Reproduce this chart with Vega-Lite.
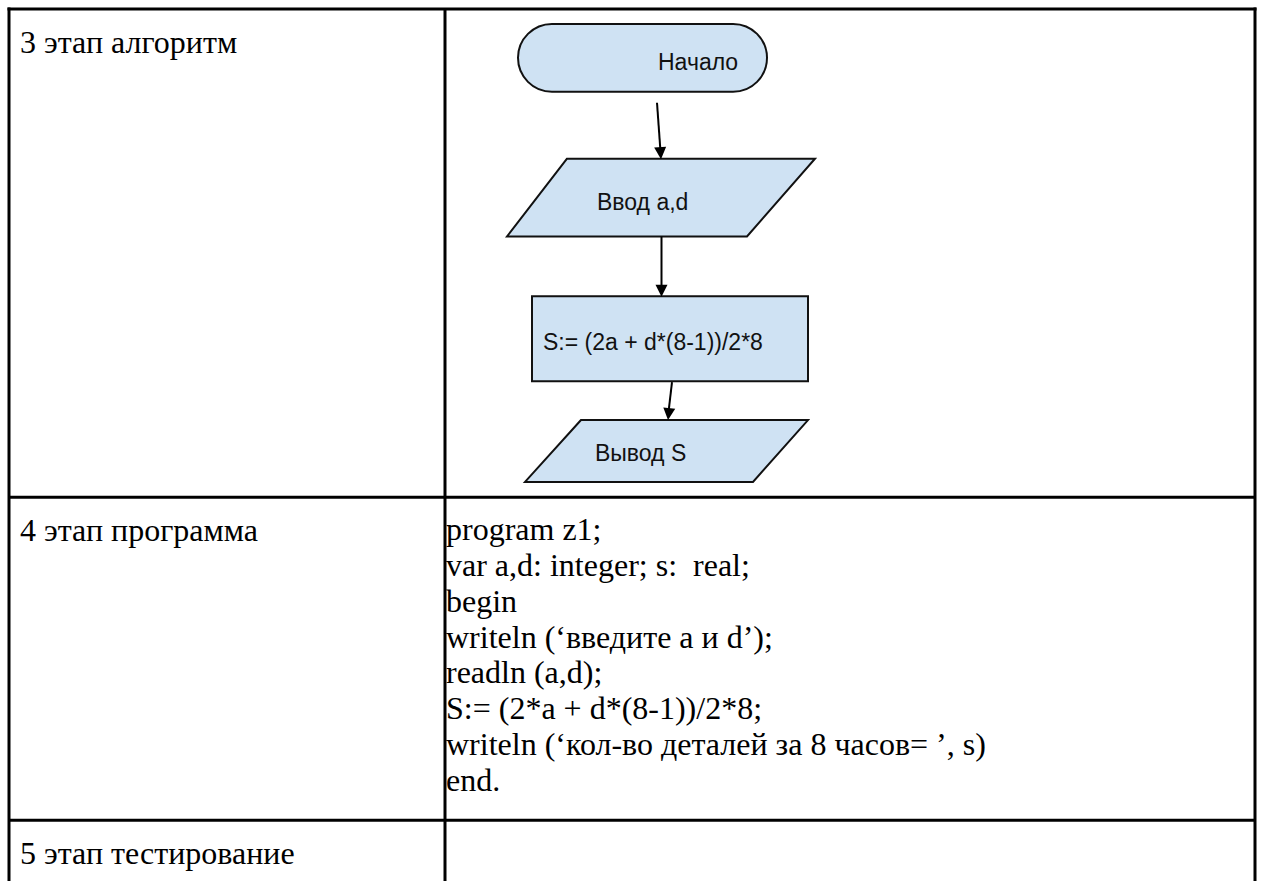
{
  "$schema": "https://vega.github.io/schema/vega-lite/v6.json",
  "width": 1261,
  "height": 883,
  "padding": 0,
  "autosize": {"type": "fit", "contains": "padding"},
  "background": "#ffffff",
  "config": {"view": {"stroke": null}},
  "datasets": {
    "grid": [
      {"x": 7.5, "y": 9, "x2": 1256.5, "y2": 9},
      {"x": 9, "y": 498.5, "x2": 1255, "y2": 498.5},
      {"x": 9, "y": 822, "x2": 1255, "y2": 822},
      {"x": 9, "y": 7.5, "x2": 9, "y2": 883},
      {"x": 445, "y": 9, "x2": 445, "y2": 883},
      {"x": 1255, "y": 7.5, "x2": 1255, "y2": 883}
    ],
    "terminal": [{"x": 518, "x2": 767, "y": 24, "y2": 92}],
    "process": [{"x": 532, "x2": 808, "y": 297, "y2": 382}],
    "io": [
      {"id": "in", "y": 159, "x": 567, "x2": 815},
      {"id": "in", "y": 237, "x": 507, "x2": 747},
      {"id": "out", "y": 421, "x": 581, "x2": 808},
      {"id": "out", "y": 483, "x": 525, "x2": 753}
    ],
    "arrows": [
      {"x": 657, "y": 103, "x2": 660.5, "y2": 152},
      {"x": 661.5, "y": 237, "x2": 661.5, "y2": 290},
      {"x": 672, "y": 383, "x2": 668.5, "y2": 413}
    ],
    "heads": [
      {"x": 661, "y": 159.5, "angle": -4},
      {"x": 661.5, "y": 297.5, "angle": 0},
      {"x": 668, "y": 421, "angle": 6}
    ],
    "serif": [
      {"x": 20, "y": 53, "text": "3 этап алгоритм"},
      {"x": 20, "y": 542, "text": "4 этап программа"},
      {"x": 20, "y": 866, "text": "5 этап тестирование"},
      {"x": 446, "y": 541, "text": "program z1;"},
      {"x": 446, "y": 577, "text": "var a,d: integer; s: \u00a0real;"},
      {"x": 446, "y": 613, "text": "begin"},
      {"x": 446, "y": 649, "text": "writeln (‘введите a и d’);"},
      {"x": 446, "y": 685, "text": "readln (a,d);"},
      {"x": 446, "y": 721, "text": "S:= (2*a + d*(8-1))/2*8;"},
      {"x": 446, "y": 757, "text": "writeln (‘кол-во деталей за 8 часов= ’, s)"},
      {"x": 446, "y": 793, "text": "end."}
    ],
    "sans": [
      {"x": 658, "y": 70, "text": "Начало"},
      {"x": 597, "y": 210, "text": "Ввод a,d"},
      {"x": 543, "y": 351, "text": "S:= (2a + d*(8-1))/2*8"},
      {"x": 595, "y": 462, "text": "Вывод S"}
    ]
  },
  "encoding": {
    "x": {"field": "x", "type": "quantitative", "scale": {"domain": [0, 1261], "nice": false, "zero": false}, "axis": null},
    "y": {"field": "y", "type": "quantitative", "scale": {"domain": [0, 883], "nice": false, "zero": false, "reverse": true}, "axis": null}
  },
  "layer": [
    {
      "data": {"name": "terminal"},
      "mark": {"type": "rect", "fill": "#cfe2f3", "stroke": "#111111", "strokeWidth": 2, "cornerRadius": 34},
      "encoding": {"x2": {"field": "x2"}, "y2": {"field": "y2"}}
    },
    {
      "data": {"name": "process"},
      "mark": {"type": "rect", "fill": "#cfe2f3", "stroke": "#111111", "strokeWidth": 2},
      "encoding": {"x2": {"field": "x2"}, "y2": {"field": "y2"}}
    },
    {
      "data": {"name": "io"},
      "mark": {"type": "area", "orient": "horizontal", "fill": "#cfe2f3", "fillOpacity": 1, "stroke": "#111111", "strokeWidth": 2, "interpolate": "linear"},
      "encoding": {
        "x": {"field": "x", "type": "quantitative", "stack": null},
        "x2": {"field": "x2"},
        "detail": {"field": "id", "type": "nominal"}
      }
    },
    {
      "data": {"name": "arrows"},
      "mark": {"type": "rule", "stroke": "#000000", "strokeWidth": 2},
      "encoding": {"x2": {"field": "x2"}, "y2": {"field": "y2"}}
    },
    {
      "data": {"name": "heads"},
      "mark": {"type": "point", "shape": "M-0.5,-1L0.5,-1L0,0Z", "filled": true, "fill": "#000000", "opacity": 1, "strokeWidth": 0},
      "encoding": {
        "size": {"value": 576},
        "angle": {"field": "angle", "type": "quantitative", "scale": null}
      }
    },
    {
      "data": {"name": "grid"},
      "mark": {"type": "rule", "stroke": "#000000", "strokeWidth": 3},
      "encoding": {"x2": {"field": "x2"}, "y2": {"field": "y2"}}
    },
    {
      "data": {"name": "serif"},
      "mark": {"type": "text", "font": "Liberation Serif", "fontSize": 32, "align": "left", "baseline": "alphabetic", "color": "#000000"},
      "encoding": {"text": {"field": "text"}}
    },
    {
      "data": {"name": "sans"},
      "mark": {"type": "text", "font": "Liberation Sans", "fontSize": 23, "align": "left", "baseline": "alphabetic", "color": "#111111"},
      "encoding": {"text": {"field": "text"}}
    }
  ]
}
